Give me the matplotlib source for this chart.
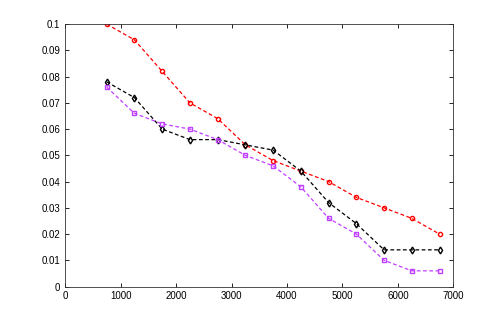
import matplotlib
matplotlib.use("Agg")
import matplotlib.pyplot as plt

# window sizes and error rates for the three methods
x_vals = [750, 1250, 1750, 2250, 2750, 3250, 3750, 4250, 4750, 5250, 5750, 6250, 6750]
red_vals = [0.100, 0.094, 0.082, 0.070, 0.064, 0.054, 0.048, 0.044, 0.040, 0.034, 0.030, 0.026, 0.020]
black_vals = [0.078, 0.072, 0.060, 0.056, 0.056, 0.054, 0.052, 0.044, 0.032, 0.024, 0.014, 0.014, 0.014]
purple_vals = [0.076, 0.066, 0.062, 0.060, 0.056, 0.050, 0.046, 0.038, 0.026, 0.020, 0.010, 0.006, 0.006]

x_ticks = [0, 1000, 2000, 3000, 4000, 5000, 6000, 7000]
y_ticks = [0, 0.01, 0.02, 0.03, 0.04, 0.05, 0.06, 0.07, 0.08, 0.09, 0.1]

plt.rcParams["font.family"] = ["Liberation Sans", "DejaVu Sans"]

fig = plt.figure(figsize=(5.01, 3.22), dpi=100)
ax = fig.add_axes([0.13, 0.11, 0.775, 0.815])

ax.plot(x_vals, red_vals, "--o", color="#ff0000", markersize=3,
        markerfacecolor="none", linewidth=0.9, dashes=(3, 2))
ax.plot(x_vals, black_vals, "--d", color="#000000", markersize=3.5,
        markerfacecolor="none", linewidth=0.9, dashes=(3, 2))
ax.plot(x_vals, purple_vals, "--s", color="#c040ff", markersize=3,
        markerfacecolor="none", linewidth=0.9, dashes=(3, 2))

ax.set_xlim(0, 7000)
ax.set_ylim(0, 0.1)
ax.set_xticks(x_ticks)
ax.set_yticks(y_ticks)
ax.set_xticklabels([str(t) for t in x_ticks])
ax.set_yticklabels(["0"] + ["%g" % t for t in y_ticks[1:]])
ax.tick_params(direction="in", labelsize=7, length=3, width=0.6, top=True, right=True)
for side in ax.spines.values():
    side.set_linewidth(0.6)
    side.set_color("#333333")

fig.savefig("out.png", dpi=100)
